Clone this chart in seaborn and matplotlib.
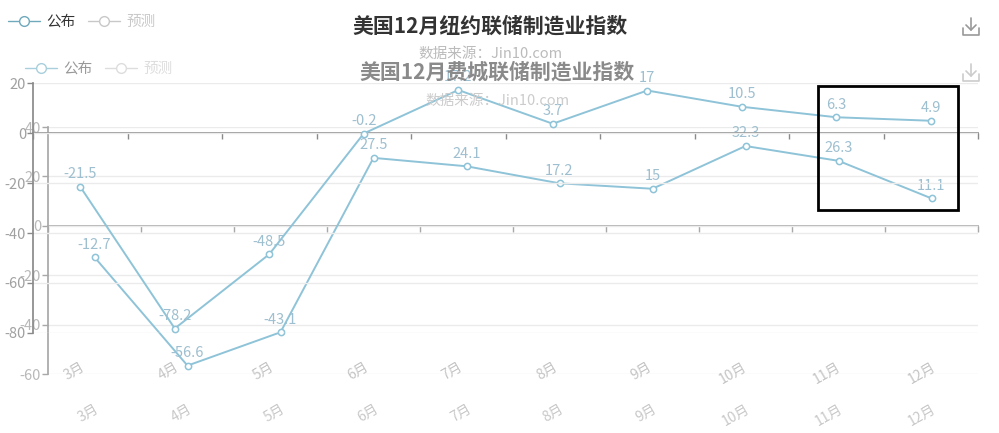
import numpy as np
import pandas as pd
import matplotlib
matplotlib.use('Agg')
import matplotlib.pyplot as plt
import seaborn as sns
from matplotlib.lines import Line2D
from matplotlib.patches import Rectangle

months = ['3月', '4月', '5月', '6月', '7月', '8月', '9月', '10月', '11月', '12月']
ny_actual = [-21.5, -78.2, -48.5, -0.2, 17.2, 3.7, 17, 10.5, 6.3, 4.9]
philly_actual = [-12.7, -56.6, -43.1, 27.5, 24.1, 17.2, 15, 32.3, 26.3, 11.1]
ny_yticks = [20, 0, -20, -40, -60, -80]
philly_yticks = [40, 20, 0, -20, -40, -60]
legend_names = ['公布', '预测']
ny_title = '美国12月纽约联储制造业指数'
philly_title = '美国12月费城联储制造业指数'
source = '数据来源：Jin10.com'

sns.set_theme(style='white')
plt.rcParams['font.family'] = ['Noto Sans CJK SC', 'DejaVu Sans']
plt.rcParams['axes.unicode_minus'] = False

W, H = 999, 433
LINE = '#8ec3d8'
LABEL = '#9dbfcf'

fig = plt.figure(figsize=(W / 100, H / 100), dpi=100)


def box(x0, y0, x1, y1):
    # pixel box (from top-left) -> figure rect
    return [x0 / W, 1 - y1 / H, (x1 - x0) / W, (y1 - y0) / H]


def panel(rect, values, yticks, txt, xtxt, axis_c, label_pad, z):
    ax = fig.add_axes(rect, facecolor='none', zorder=z)
    df = pd.DataFrame({'m': range(len(months)), 'v': values})
    sns.lineplot(data=df, x='m', y='v', ax=ax, color=LINE, lw=1.4,
                 marker='o', ms=4.5, mfc='white', mec=LINE, mew=1.1)
    for x, v in zip(df.m, df.v):
        ax.annotate(f'{v:g}', (x, v), xytext=(0, 4), textcoords='offset points',
                    ha='center', va='bottom', color=LABEL, fontsize=10.5)
    ax.set_xlim(-0.5, len(months) - 0.5)
    ax.set_ylim(min(yticks), max(yticks))
    ax.set_yticks(yticks)
    ax.yaxis.grid(True, color='#ebebeb', lw=1)
    ax.set_xticks(range(len(months)), months, rotation=30, ha='right',
                  rotation_mode='anchor')
    ax.tick_params(axis='x', length=0, pad=label_pad, labelcolor=xtxt, labelsize=10)
    ax.tick_params(axis='y', length=4, width=1, color=axis_c, left=True,
                   labelcolor=txt, labelsize=10.5, pad=1)
    for s in ['top', 'right', 'bottom']:
        ax.spines[s].set_visible(False)
    ax.spines['left'].set_color(axis_c)
    ax.set_xlabel('')
    ax.set_ylabel('')
    zero = ax.secondary_xaxis(0, transform=ax.transData)
    zero.set_xticks(np.arange(len(months) + 1) - 0.5, [])
    zero.tick_params(length=4, width=1, color=axis_c)
    zero.spines['bottom'].set_color(axis_c)
    return ax


def legend(x, y, c_on, t_on, c_off):
    handles = [Line2D([0], [0], color=c_on, lw=1, marker='o', ms=7, mfc='white', mec=c_on),
               Line2D([0], [0], color=c_off, lw=1, marker='o', ms=7, mfc='white', mec=c_off)]
    leg = fig.legend(handles, legend_names, loc='center left', bbox_to_anchor=(x / W, 1 - y / H),
                     ncol=2, frameon=False, fontsize=10.5, handlelength=2.2,
                     handletextpad=0.4, columnspacing=0.9, borderpad=0, borderaxespad=0)
    leg.get_texts()[0].set_color(t_on)
    leg.get_texts()[1].set_color(c_off)


def icon(x, y, c):
    tr = fig.transFigure
    pts = [([x, x], [y - 9, y + 3]), ([x - 5, x, x + 5], [y - 2, y + 3, y - 2]),
           ([x - 8, x - 8, x + 8, x + 8], [y + 1, y + 8, y + 8, y + 1])]
    for xs, ys in pts:
        fig.add_artist(Line2D([v / W for v in xs], [1 - v / H for v in ys],
                              color=c, lw=1.2, transform=tr))


ax_ny = panel(box(33, 83, 978, 333), ny_actual, ny_yticks, '#a0a0a0', '#c4c4c4', '#8a8a8a', 19, 2)
ax_ph = panel(box(48, 127, 978, 374), philly_actual, philly_yticks, '#b8b8b8', '#c8c8c8', '#a8a8a8', 20, 1)

fig.text(490 / W, 1 - 26 / H, ny_title, ha='center', va='center', fontsize=15,
         fontweight='bold', color='#333333')
fig.text(490 / W, 1 - 54 / H, source, ha='center', va='center', fontsize=10.5, color='#bbbbbb')
fig.text(497 / W, 1 - 72 / H, philly_title, ha='center', va='center', fontsize=15,
         fontweight='bold', color='#8a8a8a', zorder=5)
fig.text(497 / W, 1 - 101 / H, source, ha='center', va='center', fontsize=10.5, color='#cccccc')

legend(8, 22, '#6fa9bb', '#333333', '#c8c8c8')
legend(25, 69, '#a9cfdc', '#999999', '#dddddd')

icon(971, 27, '#999999')
icon(971, 73, '#cccccc')

fig.add_artist(Rectangle((818 / W, 1 - 210 / H), 140 / W, 124 / H, fill=False,
                         edgecolor='black', lw=2, transform=fig.transFigure, zorder=10))

fig.savefig('out.png', dpi=100, facecolor='white')
